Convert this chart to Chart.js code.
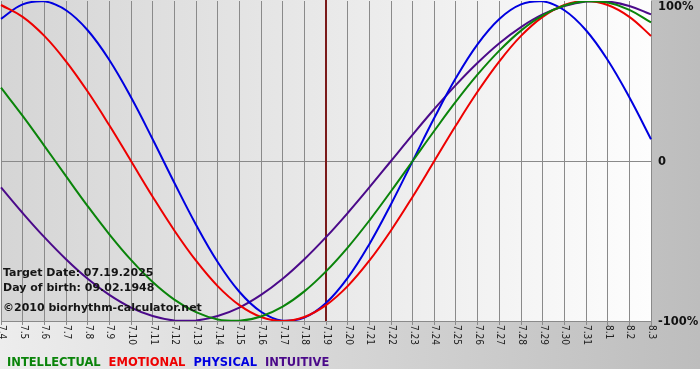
<!DOCTYPE html>
<html>
<head>
<meta charset="utf-8">
<script src="https://cdn.jsdelivr.net/npm/chart.js@4/dist/chart.umd.min.js"></script>
<style>
  html, body { margin: 0; padding: 0; background: #fff; }
  #wrap { width: 700px; height: 380px; position: relative; }
</style>
</head>
<body>
<div id="wrap"><canvas id="c" width="700" height="380"></canvas></div>
<script>
// ---- data ----
const dayLabels = ['7.4','7.5','7.6','7.7','7.8','7.9','7.10','7.11','7.12','7.13','7.14','7.15','7.16','7.17','7.18','7.19','7.20','7.21','7.22','7.23','7.24','7.25','7.26','7.27','7.28','7.29','7.30','7.31','8.1','8.2','8.3'];
const intellectual = [0.458,0.282,0.095,-0.095,-0.282,-0.458,-0.618,-0.756,-0.866,-0.945,-0.990,-0.999,-0.972,-0.910,-0.815,-0.690,-0.541,-0.372,-0.189,0,0.189,0.372,0.541,0.690,0.815,0.910,0.972,0.999,0.990,0.945,0.866];
const emotional = [0.975,0.901,0.782,0.623,0.434,0.223,0,-0.223,-0.434,-0.623,-0.782,-0.901,-0.975,-1,-0.975,-0.901,-0.782,-0.623,-0.434,-0.223,0,0.223,0.434,0.623,0.782,0.901,0.975,1,0.975,0.901,0.782];
const physical = [0.888,0.979,0.998,0.942,0.817,0.631,0.398,0.136,-0.136,-0.398,-0.631,-0.817,-0.942,-0.998,-0.979,-0.888,-0.731,-0.520,-0.270,0,0.270,0.520,0.731,0.888,0.979,0.998,0.942,0.817,0.631,0.398,0.136];
const intuitive = [-0.165,-0.325,-0.476,-0.614,-0.736,-0.837,-0.916,-0.969,-0.997,-0.997,-0.969,-0.916,-0.837,-0.736,-0.614,-0.476,-0.325,-0.165,0,0.165,0.325,0.476,0.614,0.736,0.837,0.916,0.969,0.997,0.997,0.969,0.916];
const seriesNames = ['INTELLECTUAL','EMOTIONAL','PHYSICAL','INTUITIVE'];
const targetLabel = '7.19';
const yTickValues = [1, 0, -1];
const yTickTexts = ['100%', '0', '-100%'];
const infoLines = ['Target Date: 07.19.2025', 'Day of birth: 09.02.1948'];
const creditText = '\u00A92010 biorhythm-calculator.net';

// ---- styles ----
const seriesColors = ['#0a840a', '#ee0000', '#0000e0', '#4b0a8a'];
const BOLD = 'bold 11px "DejaVu Sans", Verdana, sans-serif';

const decorPlugin = {
  id: 'decor',
  beforeDraw(chart) {
    const ctx = chart.ctx, W = chart.width, H = chart.height, a = chart.chartArea;
    ctx.save();
    ctx.fillStyle = '#ffffff';
    ctx.fillRect(0, 0, W, H);
    const g = ctx.createLinearGradient(0, 0, W, 0);
    g.addColorStop(0, '#ededed');
    g.addColorStop(1, '#bdbdbd');
    ctx.fillStyle = g;
    ctx.fillRect(0, 0, W, 369);
    const pg = ctx.createLinearGradient(a.left, 0, a.right, 0);
    pg.addColorStop(0, '#d5d5d5');
    pg.addColorStop(1, '#fdfdfd');
    ctx.fillStyle = pg;
    ctx.fillRect(a.left, a.top - 1, a.right - a.left, a.bottom - a.top + 1);
    ctx.restore();
  },
  beforeDatasetsDraw(chart) {
    const ctx = chart.ctx, a = chart.chartArea, xs = chart.scales.x;
    const xi = xs.getPixelForValue(dayLabels.indexOf(targetLabel));
    ctx.save();
    ctx.strokeStyle = '#7a1a1a';
    ctx.lineWidth = 2;
    ctx.beginPath();
    ctx.moveTo(Math.round(xi), a.top - 1);
    ctx.lineTo(Math.round(xi), a.bottom);
    ctx.stroke();
    ctx.restore();
  },
  afterDraw(chart) {
    const ctx = chart.ctx, a = chart.chartArea, xs = chart.scales.x, ys = chart.scales.y;
    ctx.save();
    // rotated x labels (clockwise)
    ctx.fillStyle = '#222';
    ctx.font = '10px "DejaVu Sans Condensed", "DejaVu Sans", sans-serif';
    ctx.textAlign = 'left';
    ctx.textBaseline = 'middle';
    xs.ticks.forEach((t, i) => {
      const px = xs.getPixelForTick(i);
      ctx.save();
      ctx.translate(px + 0.5, a.bottom + 4);
      ctx.rotate(Math.PI / 2);
      ctx.fillText(dayLabels[i], 0, 0);
      ctx.restore();
    });
    // right y labels
    ctx.fillStyle = '#111';
    ctx.font = 'bold 11.5px "DejaVu Sans", Verdana, sans-serif';
    ctx.textBaseline = 'middle';
    yTickValues.forEach((v, i) => {
      const py = Math.max(ys.getPixelForValue(v) + 1, 7);
      ctx.fillText(yTickTexts[i], a.right + 7, py);
    });
    // info text
    ctx.font = BOLD;
    ctx.fillStyle = '#151515';
    ctx.textBaseline = 'alphabetic';
    ctx.fillText(infoLines[0], 3, 276);
    ctx.fillText(infoLines[1], 3, 291);
    ctx.fillText(creditText, 3, 311);
    // legend
    ctx.font = 'bold 11.5px "DejaVu Sans", Verdana, sans-serif';
    let lx = 7;
    chart.data.datasets.forEach((ds) => {
      ctx.fillStyle = ds.borderColor;
      ctx.fillText(ds.label, lx, 366);
      lx += ctx.measureText(ds.label).width + 8;
    });
    ctx.restore();
  }
};

const seriesData = [intellectual, emotional, physical, intuitive];
const datasets = seriesNames.map((n, i) => ({
  label: n,
  data: seriesData[i],
  borderColor: seriesColors[i],
  backgroundColor: seriesColors[i],
  borderWidth: 2,
  pointRadius: 0,
  tension: 0.4,
  fill: false
}));

new Chart(document.getElementById('c'), {
  type: 'line',
  data: { labels: dayLabels, datasets: datasets },
  plugins: [decorPlugin],
  options: {
    responsive: false,
    animation: false,
    devicePixelRatio: 1,
    layout: { padding: { left: 1, top: 1, right: 49, bottom: 55 } },
    plugins: { legend: { display: false }, tooltip: { enabled: false } },
    scales: {
      x: {
        type: 'category',
        offset: false,
        ticks: { display: false },
        grid: { color: '#8a8a8a', lineWidth: 1, drawTicks: true, tickLength: 4 },
        border: { color: '#8a8a8a' }
      },
      y: {
        position: 'right',
        min: -1, max: 1,
        ticks: { display: false, stepSize: 1 },
        grid: {
          drawTicks: false,
          color: (c) => (c.tick && c.tick.value === 0 ? '#8a8a8a' : 'rgba(0,0,0,0)')
        },
        border: { display: false }
      }
    }
  }
});
</script>
</body>
</html>
